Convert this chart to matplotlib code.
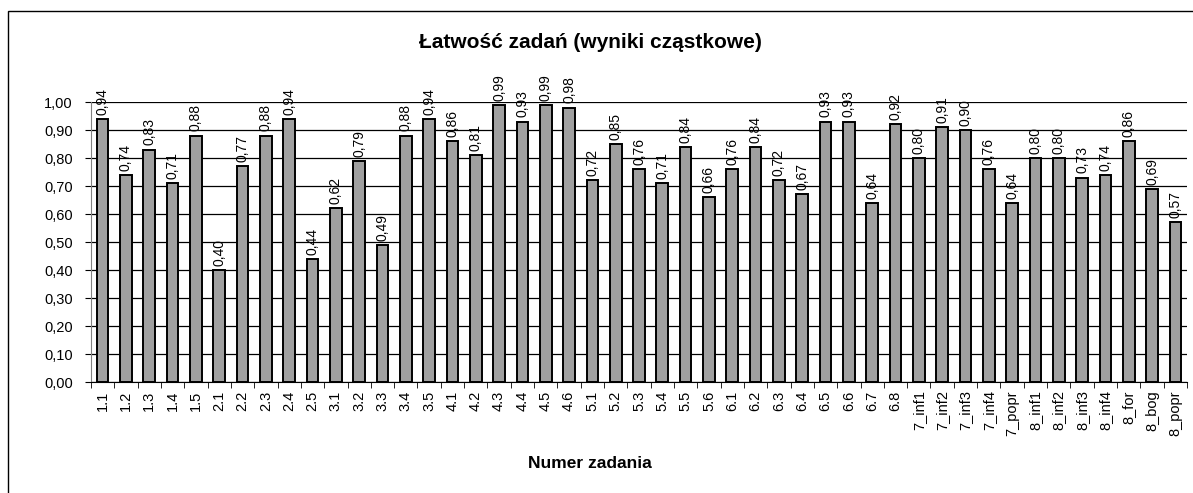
import numpy as np
import matplotlib
matplotlib.use('Agg')
import matplotlib.pyplot as plt
from matplotlib.patches import Rectangle

plt.rcParams['font.family'] = ['Liberation Sans', 'DejaVu Sans']

labels = ['1.1', '1.2', '1.3', '1.4', '1.5', '2.1', '2.2', '2.3', '2.4', '2.5',
          '3.1', '3.2', '3.3', '3.4', '3.5', '4.1', '4.2', '4.3', '4.4', '4.5',
          '4.6', '5.1', '5.2', '5.3', '5.4', '5.5', '5.6', '6.1', '6.2', '6.3',
          '6.4', '6.5', '6.6', '6.7', '6.8', '7_inf1', '7_inf2', '7_inf3',
          '7_inf4', '7_popr', '8_inf1', '8_inf2', '8_inf3', '8_inf4', '8_for',
          '8_bog', '8_popr']
values = [0.94, 0.74, 0.83, 0.71, 0.88, 0.40, 0.77, 0.88, 0.94, 0.44,
          0.62, 0.79, 0.49, 0.88, 0.94, 0.86, 0.81, 0.99, 0.93, 0.99,
          0.98, 0.72, 0.85, 0.76, 0.71, 0.84, 0.66, 0.76, 0.84, 0.72,
          0.67, 0.93, 0.93, 0.64, 0.92, 0.80, 0.91, 0.90, 0.76, 0.64,
          0.80, 0.80, 0.73, 0.74, 0.86, 0.69, 0.57]
yticks = [0.0, 0.1, 0.2, 0.3, 0.4, 0.5, 0.6, 0.7, 0.8, 0.9, 1.0]

W, H = 1193, 493
fig = plt.figure(figsize=(W / 100, H / 100), dpi=100)
fig.patch.set_facecolor('white')

# outer chart frame (cut off on the right and bottom)
fig.patches.append(Rectangle((8 / W, -0.1), 1.2, 1.1 - 11 / H,
                             transform=fig.transFigure, fill=False,
                             edgecolor='black', linewidth=1.0))

ax = fig.add_axes([91 / W, 111 / H, 1096 / W, 280 / H])
x = np.arange(len(values))
ax.bar(x, values, width=0.5, color='#a0a0a0', edgecolor='black',
       linewidth=1.4, zorder=3)

for xi, v in zip(x, values):
    ax.annotate(('%.2f' % v).replace('.', ','), (xi, v), xytext=(0, 3),
                textcoords='offset points', rotation=90, ha='center',
                va='bottom', fontsize=10, annotation_clip=False)

ax.set_xlim(-0.5, len(values) - 0.5)
ax.set_ylim(0, 1.0)
ax.set_yticks(yticks)
ax.set_yticklabels([('%.2f' % t).replace('.', ',') for t in yticks], fontsize=10.5)
ax.yaxis.grid(True, color='black', linewidth=0.9, zorder=0)
ax.set_axisbelow(True)

ax.set_xticks(x)
ax.set_xticklabels(labels, rotation=90, fontsize=10.5)
ax.tick_params(axis='x', length=0, pad=6)
ax.set_xticks(np.arange(len(values) + 1) - 0.5, minor=True)
ax.tick_params(axis='x', which='minor', length=4, color='black')
ax.tick_params(axis='y', length=4.5, color='black', pad=8.5)

for s in ['top', 'right']:
    ax.spines[s].set_visible(False)
ax.spines['left'].set_color('#808080')
ax.spines['bottom'].set_color('black')

fig.text(590 / W, 1 - 43 / H, 'Łatwość zadań (wyniki cząstkowe)',
         ha='center', va='center', fontsize=15, fontweight='bold')
fig.text(590 / W, 1 - 463 / H, 'Numer zadania', ha='center', va='center',
         fontsize=12.5, fontweight='bold')

fig.savefig('out.png', dpi=100)
